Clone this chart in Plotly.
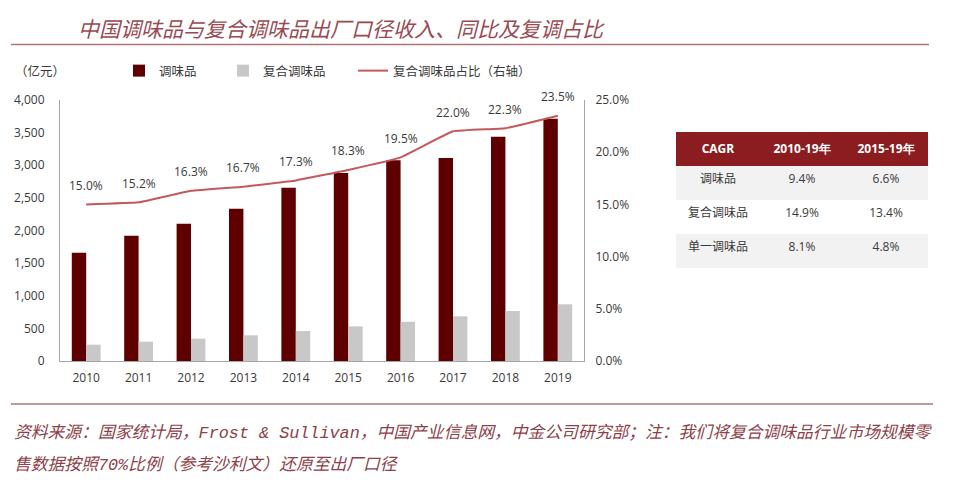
import plotly.graph_objects as go

# ---- data ----
years = ["2010", "2011", "2012", "2013", "2014", "2015", "2016", "2017", "2018", "2019"]
seasoning = [1660, 1920, 2104, 2334, 2656, 2881, 3076, 3111, 3438, 3713]          # 调味品 (亿元)
compound = [250, 296, 342, 394, 460, 531, 602, 685, 766, 869]                      # 复合调味品 (亿元)
share_pct = [15.0, 15.2, 16.3, 16.7, 17.3, 18.3, 19.5, 22.0, 22.3, 23.5]           # 复合调味品占比 (%)

table_header = ["CAGR", "2010-19年", "2015-19年"]
table_rows = ["调味品", "复合调味品", "单一调味品"]
cagr_2010_19 = ["9.4%", "14.9%", "8.1%"]
cagr_2015_19 = ["6.6%", "13.4%", "4.8%"]

title_text = "中国调味品与复合调味品出厂口径收入、同比及复调占比"
unit_text = "（亿元）"
source_line1 = "资料来源：国家统计局，Frost & Sullivan，中国产业信息网，中金公司研究部；注：我们将复合调味品行业市场规模零"
source_line2 = "售数据按照70%比例（参考沙利文）还原至出厂口径"

W, H = 953, 494
def px(x):
    return x / W
def py(y):
    return (H - y) / H

CJK = "Noto Sans CJK SC"
NUM = "Open Sans"
DARK = "#5f0000"
GRAY = "#c8c8c8"
LINEC = "#c3595a"
TXT = "#3a3a3a"
AXC = "#a6a6a6"
TITLEC = "#9a4a52"

share = [v / 100 for v in share_pct]

fig = go.Figure()
fig.add_trace(go.Bar(x=years, y=seasoning, name="调味品", marker_color=DARK,
                     legend="legend"))
fig.add_trace(go.Bar(x=years, y=compound, name="复合调味品", marker_color=GRAY,
                     legend="legend2"))
fig.add_trace(go.Scatter(x=years, y=share, name="复合调味品占比（右轴）", yaxis="y2",
                         mode="lines", line=dict(color=LINEC, width=2, shape="spline", smoothing=0.3),
                         legend="legend3"))

# CAGR table
row_fill = ["#f2f2f2", "#ffffff", "#f2f2f2"]
fig.add_trace(go.Table(
    domain=dict(x=[px(676), px(929)], y=[py(270), py(132)]),
    columnwidth=[1, 1, 1],
    header=dict(values=[f"<b>{h}</b>" for h in table_header],
                fill_color="#8b1c1f", line=dict(color="#8b1c1f", width=0),
                font=dict(color="white", size=12, family=NUM), align="center", height=34),
    cells=dict(values=[table_rows, cagr_2010_19, cagr_2015_19],
               fill_color=[row_fill] * 3,
               line=dict(color=[row_fill] * 3, width=0),
               font=dict(color=TXT, size=12, family=[CJK, NUM, NUM]),
               align="center", height=34),
))

# data labels on the line
for i, v in enumerate(share):
    fig.add_annotation(x=i, y=v, xref="x", yref="y2", text=f"{v*100:.1f}%",
                       showarrow=False, yshift=19,
                       font=dict(family=NUM, size=12, color=TXT))

# title, unit, source
fig.add_annotation(x=px(76), y=py(28), xref="paper", yref="paper", xanchor="left", yanchor="middle",
                   text=f"<i>{title_text}</i>", showarrow=False,
                   font=dict(family=CJK, size=21, color=TITLEC))
fig.add_annotation(x=px(13), y=py(70), xref="paper", yref="paper", xanchor="left", yanchor="middle",
                   text=unit_text, showarrow=False, font=dict(family=CJK, size=12.5, color=TXT))
for txt, yy in [(source_line1, 433), (source_line2, 465)]:
    fig.add_annotation(x=px(12), y=py(yy), xref="paper", yref="paper", xanchor="left", yanchor="middle",
                       text=f"<i>{txt}</i>", showarrow=False,
                       font=dict(family="Liberation Mono, " + CJK, size=16.8, color="#8e4048"))

fig.add_shape(type="line", xref="paper", yref="paper", x0=px(11), x1=px(929), y0=py(44.5), y1=py(44.5),
              line=dict(color="#b07478", width=1.5))
fig.add_shape(type="line", xref="paper", yref="paper", x0=px(11), x1=px(933), y0=py(404), y1=py(404),
              line=dict(color="#b07478", width=1.5))

legend_common = dict(orientation="h", yanchor="middle", y=py(71), xanchor="left",
                     font=dict(family=CJK, size=12.5, color=TXT), bgcolor="rgba(0,0,0,0)",
                     borderwidth=0)

fig.update_layout(
    template="none",
    width=W, height=H,
    margin=dict(l=0, r=0, t=0, b=0, pad=0, autoexpand=False),
    paper_bgcolor="white", plot_bgcolor="white",
    barmode="group", bargap=0.45, bargroupgap=0,
    xaxis=dict(domain=[px(60), px(584)], type="category", range=[-0.5, 9.5], showgrid=False,
               showline=True, automargin=False,
               linecolor=AXC, linewidth=1, ticks="", ticklabelstandoff=6,
               tickfont=dict(family=NUM, size=12, color=TXT)),
    yaxis=dict(domain=[py(361), py(100)], range=[0, 4000], dtick=500, tickformat=",",
               showgrid=False, showline=True, linecolor=AXC, linewidth=1, ticks="",
               zeroline=False, ticklabelstandoff=12, automargin=False,
               tickfont=dict(family=NUM, size=12, color=TXT)),
    yaxis2=dict(overlaying="y", side="right", range=[0, 0.25], dtick=0.05, tickformat=".1%",
                showgrid=False, showline=True, linecolor=AXC, linewidth=1, ticks="",
                zeroline=False, ticklabelstandoff=8, automargin=False,
                tickfont=dict(family=NUM, size=12, color=TXT)),
    legend=dict(x=px(119), **legend_common),
    legend2=dict(x=px(223), **legend_common),
    legend3=dict(x=px(353), **legend_common),
    showlegend=True,
)

fig.write_html("out.html")
